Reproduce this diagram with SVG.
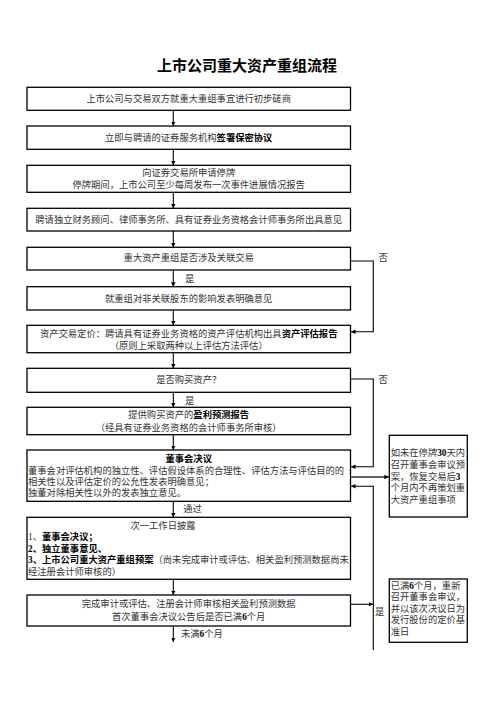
<svg xmlns="http://www.w3.org/2000/svg" width="496" height="702" viewBox="0 0 496 702">
<defs>
<marker id="ah" viewBox="0 0 10 10" refX="10" refY="5" markerWidth="4.5" markerHeight="4.5" orient="auto" markerUnits="userSpaceOnUse">
<path d="M0,0 L10,5 L0,10 z" fill="#000"/>
</marker>
<style>
.box{fill:#fff;stroke:#000;stroke-width:1.3}
.t{font-family:"Liberation Serif","Noto Sans CJK SC",serif;font-size:9.3px;fill:#333;dominant-baseline:central}
.c{text-anchor:middle}
.b{font-weight:bold;fill:#000}
.title{font-family:"Liberation Sans","Noto Sans CJK SC",sans-serif;font-size:15px;font-weight:bold;fill:#000;text-anchor:middle;dominant-baseline:central}
.ln{fill:none;stroke:#000;stroke-width:1.1}
.ar{fill:none;stroke:#000;stroke-width:1.1;marker-end:url(#ah)}
</style>
</defs>
<rect width="496" height="702" fill="#fff"/>
<text class="title" x="247" y="65">上市公司重大资产重组流程</text>

<g id="n1"><rect class="box" x="27" y="87.3" width="323.5" height="23"/>
<text class="t c" x="188.7" y="99">上市公司与交易双方就重大重组事宜进行初步磋商</text></g>

<g id="n2"><rect class="box" x="27" y="126" width="323.5" height="23.3"/>
<text class="t c" x="188.7" y="137.8">立即与聘请的证券服务机构<tspan class="b">签署保密协议</tspan></text></g>

<g id="n3"><rect class="box" x="27" y="165.3" width="323.5" height="27"/>
<text class="t c" x="188.7" y="173">向证券交易所申请停牌</text>
<text class="t c" x="188.7" y="185">停牌期间，上市公司至少每周发布一次事件进展情况报告</text></g>

<g id="n4"><rect class="box" x="27" y="208.3" width="323.5" height="22.7"/>
<text class="t c" x="188.7" y="219.7">聘请独立财务顾问、律师事务所、具有证券业务资格会计师事务所出具意见</text></g>

<g id="n5"><rect class="box" x="27" y="247.3" width="323.5" height="22.7"/>
<text class="t c" x="188.7" y="258">重大资产重组是否涉及关联交易</text></g>

<g id="n6"><rect class="box" x="27" y="286.7" width="323.5" height="23.3"/>
<text class="t c" x="188.7" y="298.5">就重组对非关联股东的影响发表明确意见</text></g>

<g id="n7"><rect class="box" x="27" y="325.3" width="323.5" height="27.4"/>
<text class="t c" x="188.7" y="333.5">资产交易定价：聘请具有证券业务资格的资产评估机构出具<tspan class="b">资产评估报告</tspan></text>
<text class="t c" x="188.7" y="346">（原则上采取两种以上评估方法评估）</text></g>

<g id="n8"><rect class="box" x="27" y="368.3" width="323.5" height="24"/>
<text class="t c" x="188.7" y="380">是否购买资产？</text></g>

<g id="n9"><rect class="box" x="27" y="407.3" width="323.5" height="27.4"/>
<text class="t c" x="188.7" y="415.3">提供购买资产的<tspan class="b">盈利预测报告</tspan></text>
<text class="t c" x="188.7" y="427.5">（经具有证券业务资格的会计师事务所审核）</text></g>

<g id="n10"><rect class="box" x="27" y="450" width="323.5" height="51.3"/>
<text class="t c b" x="188.7" y="459">董事会决议</text>
<text class="t" x="28" y="470.5">董事会对评估机构的独立性、评估假设体系的合理性、评估方法与评估目的的</text>
<text class="t" x="28" y="481.7">相关性以及评估定价的公允性发表明确意见；</text>
<text class="t" x="28" y="492.5">独董对除相关性以外的发表独立意见。</text></g>

<g id="n11"><rect class="box" x="27" y="517.3" width="323.5" height="62"/>
<text class="t c" x="163" y="526">次一工作日披露</text>
<text class="t" x="28" y="537.3">1、<tspan class="b">董事会决议；</tspan></text>
<text class="t b" x="28" y="548.7">2、独立董事意见、</text>
<text class="t" x="28" y="560"><tspan class="b">3、上市公司重大资产重组预案</tspan>（尚未完成审计或评估、相关盈利预测数据尚未</text>
<text class="t" x="28" y="571.7">经注册会计师审核的）</text></g>

<g id="n12"><rect class="box" x="27" y="595" width="323.5" height="31"/>
<text class="t c" x="188.7" y="604">完成审计或评估、注册会计师审核相关盈利预测数据</text>
<text class="t c" x="188.7" y="616.5">首次董事会决议公告后是否已满<tspan class="b">6</tspan>个月</text></g>

<g id="r1"><rect class="box" x="389.3" y="435.3" width="78" height="81.7"/>
<text class="t" x="390.7" y="453">如未在停牌<tspan class="b">30</tspan>天内</text>
<text class="t" x="390.7" y="464.8">召开董事会审议预</text>
<text class="t" x="390.7" y="476.6">案，恢复交易后<tspan class="b">3</tspan></text>
<text class="t" x="390.7" y="488.4">个月内不再策划重</text>
<text class="t" x="390.7" y="500.2">大资产重组事项</text></g>

<g id="r2"><rect class="box" x="389.3" y="579" width="78" height="63.3"/>
<text class="t" x="390.7" y="585.7">已满<tspan class="b">6</tspan>个月，重新</text>
<text class="t" x="390.7" y="597.2">召开董事会审议，</text>
<text class="t" x="390.7" y="608.7">并以该次决议日为</text>
<text class="t" x="390.7" y="620.2">发行股份的定价基</text>
<text class="t" x="390.7" y="631.7">准日</text></g>

<g id="connectors">
<line class="ar" x1="173.3" y1="110.3" x2="173.3" y2="126"/>
<line class="ar" x1="173.3" y1="149.3" x2="173.3" y2="165.3"/>
<line class="ar" x1="173.3" y1="192.3" x2="173.3" y2="208.3"/>
<line class="ar" x1="173.3" y1="231" x2="173.3" y2="247.3"/>
<line class="ar" x1="173.3" y1="270" x2="173.3" y2="286.7"/>
<line class="ar" x1="173.3" y1="310" x2="173.3" y2="325.3"/>
<line class="ar" x1="173.3" y1="352.7" x2="173.3" y2="368.3"/>
<line class="ar" x1="173.3" y1="392.3" x2="173.3" y2="407.3"/>
<line class="ar" x1="173.3" y1="434.7" x2="173.3" y2="450"/>
<line class="ar" x1="173.3" y1="501.3" x2="173.3" y2="517.3"/>
<line class="ar" x1="173.3" y1="579.3" x2="173.3" y2="595"/>
<line class="ar" x1="173.3" y1="626" x2="173.3" y2="642"/>
<polyline class="ar" points="350.5,261 373.3,261 373.3,331.7 351,331.7"/>
<polyline class="ar" points="350.5,379 373.3,379 373.3,466.7 351,466.7"/>
<line class="ar" x1="350.5" y1="477" x2="388.8" y2="477" style="stroke-width:1.6;stroke:#333"/>
<polyline class="ar" points="373.3,650 373.3,486.3 351,486.3"/>
<line class="ar" x1="350.5" y1="604.3" x2="373" y2="604.3"/>
<text class="t" x="378.5" y="258">否</text>
<text class="t" x="378.5" y="380">否</text>
<text class="t" x="185" y="279">是</text>
<text class="t" x="185" y="400.7">是</text>
<text class="t" x="183.3" y="509">通过</text>
<text class="t" x="181" y="634">未满<tspan class="b">6</tspan>个月</text>
<text class="t" x="375" y="611.5">是</text>
</g>
</svg>
